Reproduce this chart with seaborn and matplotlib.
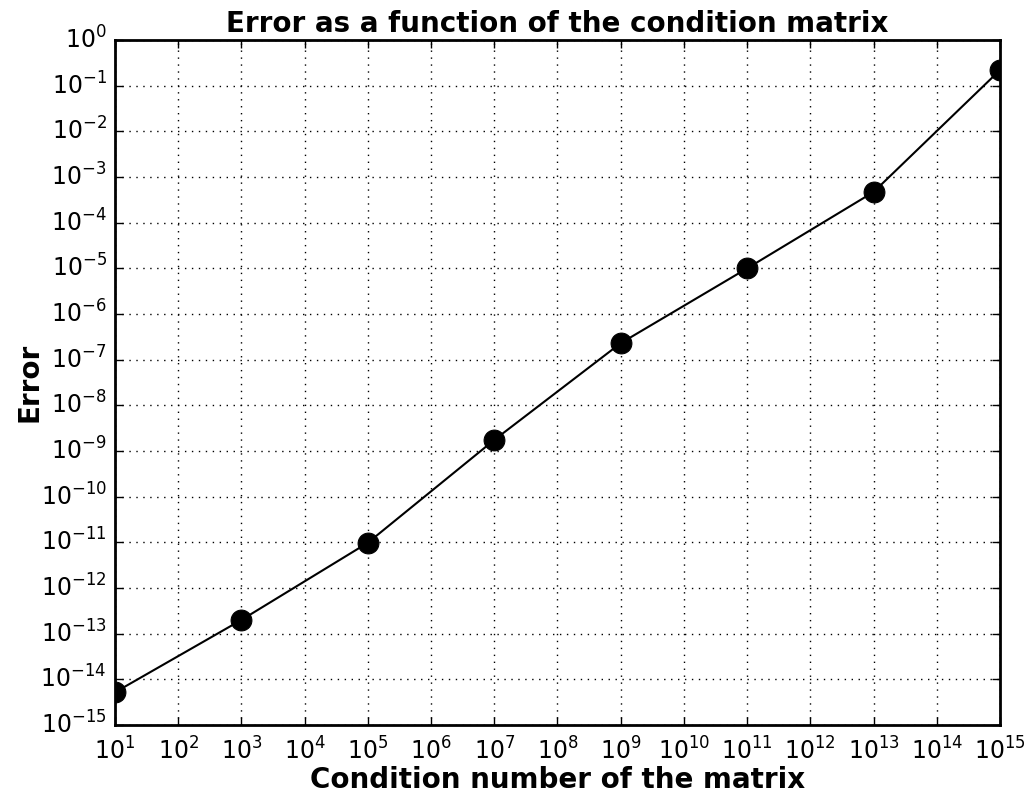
import matplotlib
matplotlib.use("Agg")
import matplotlib.pyplot as plt
from matplotlib.ticker import LogLocator, NullLocator
import numpy as np
import pandas as pd
import seaborn as sns

# 数据
condition_number = [1e1, 1e3, 1e5, 1e7, 1e9, 1e11, 1e13, 1e15]
error = [5.2e-15, 2.0e-13, 9.8e-12, 1.75e-9, 2.3e-7, 1.0e-5, 4.7e-4, 0.22]

plt.style.use("classic")
plt.rcParams["font.family"] = ["DejaVu Sans"]
plt.rcParams["mathtext.fontset"] = "dejavusans"
plt.rcParams["axes.unicode_minus"] = False
plt.rcParams["axes.linewidth"] = 2

df = pd.DataFrame({"cond": condition_number, "err": error})

fig = plt.figure(figsize=(10.25, 7.96), dpi=100, facecolor="white")
ax = fig.add_axes([0.1122, 0.0892, 0.8634, 0.8605])

sns.lineplot(data=df, x="cond", y="err", color="black", marker="o",
             markersize=15, markeredgecolor="black", linewidth=1.5, ax=ax)

ax.set_xscale("log")
ax.set_yscale("log")
ax.set_xlim(1e1, 1e15)
ax.set_ylim(1e-15, 1e0)
ax.xaxis.set_major_locator(LogLocator(base=10, numticks=20))
ax.yaxis.set_major_locator(LogLocator(base=10, numticks=20))
ax.xaxis.set_minor_locator(NullLocator())
ax.yaxis.set_minor_locator(NullLocator())
ax.tick_params(labelsize=17, direction="in", length=6, width=1)
ax.tick_params(axis="x", pad=9)
ax.tick_params(axis="y", pad=6)
ax.grid(True, linestyle=(0, (1, 4)), color="black", linewidth=1)

ax.set_title("Error as a function of the condition matrix", fontsize=20,
             fontweight="bold", pad=6)
ax.set_xlabel("Condition number of the matrix", fontsize=20, fontweight="bold",
              labelpad=1)
ax.set_ylabel("Error", fontsize=20, fontweight="bold", labelpad=-2)

fig.savefig("out.png", dpi=100, facecolor="white")
